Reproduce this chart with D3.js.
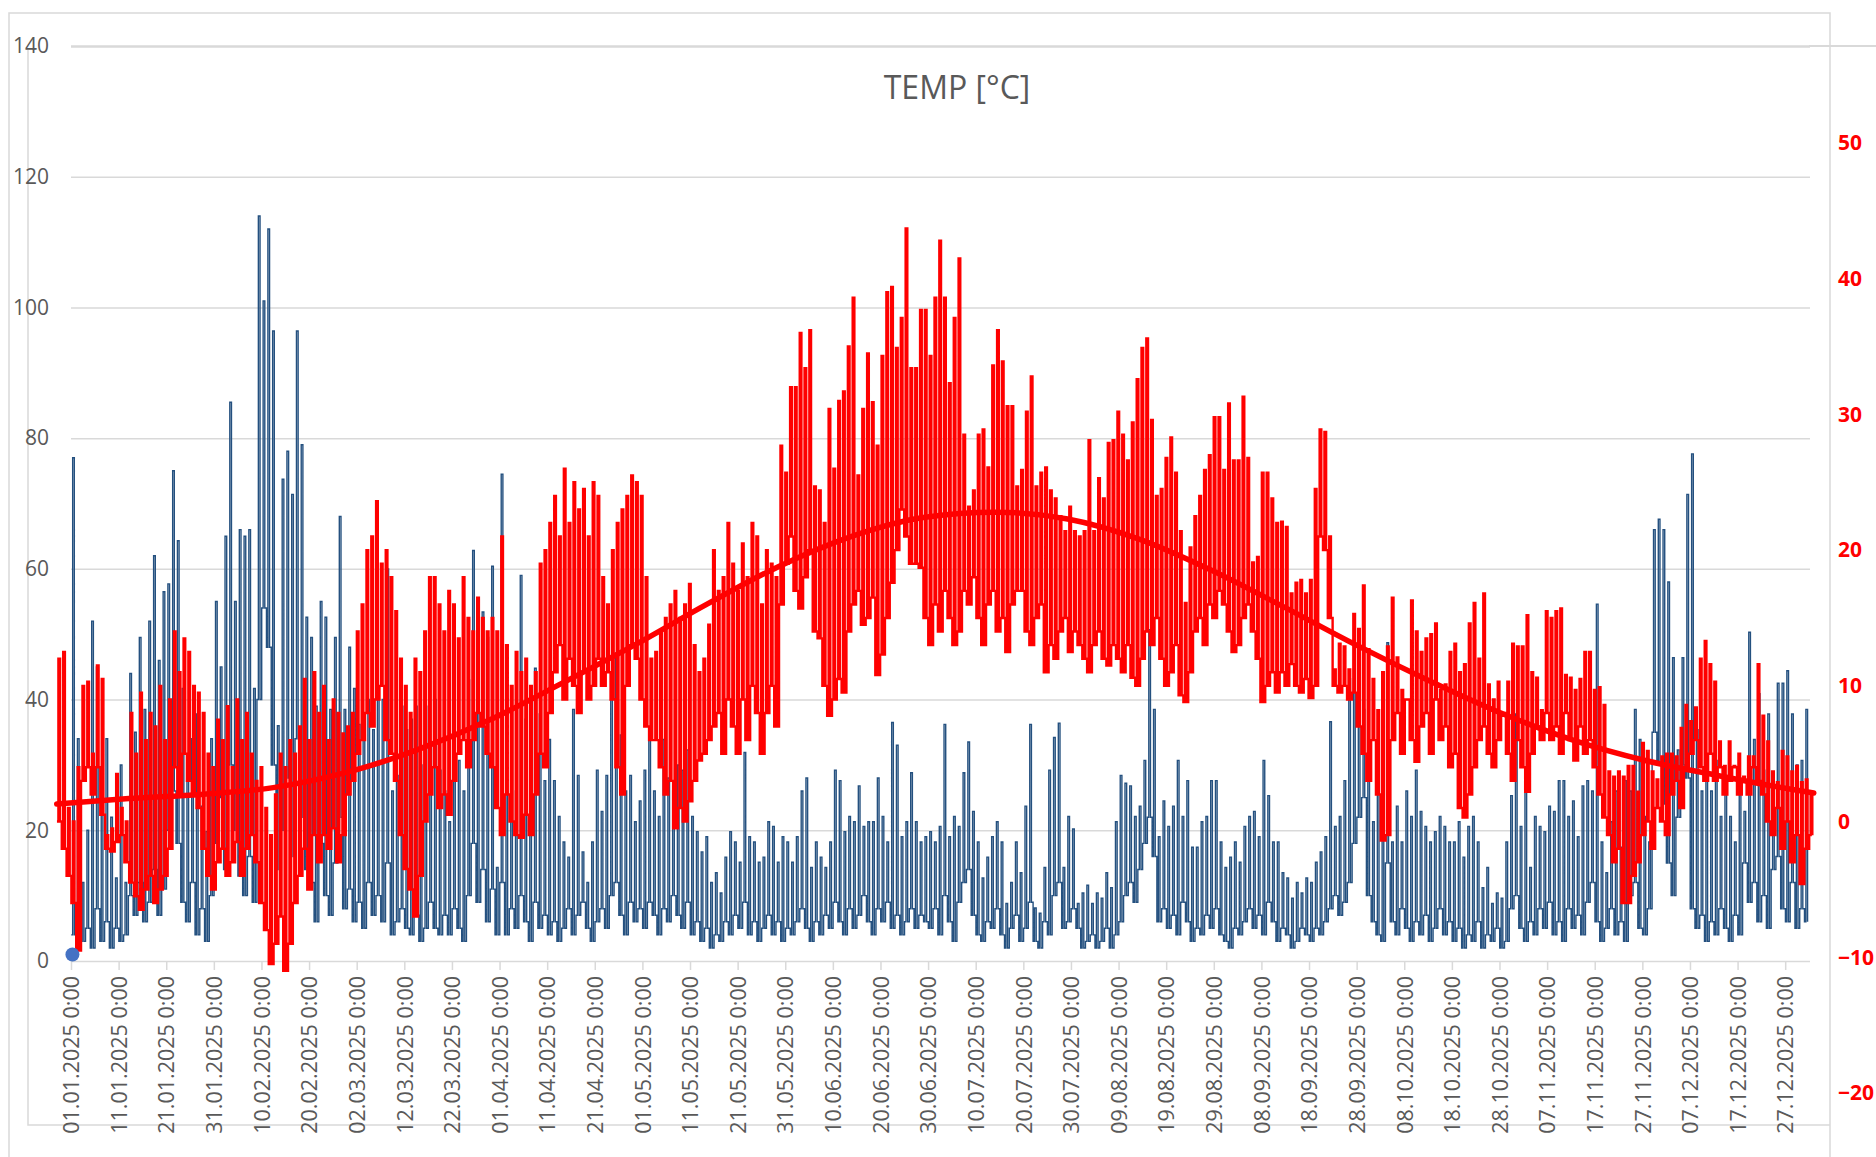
<!DOCTYPE html>
<html>
<head>
<meta charset="utf-8">
<script src="https://cdn.jsdelivr.net/npm/d3@7"></script>
<style>
  body { margin: 0; background: #fff; }
  svg { display: block; }
</style>
</head>
<body>
<div id="chart"></div>
<script>
// ---- data (one value per day) ----
var titleText = "TEMP [°C]";
var leftTicks = [0, 20, 40, 60, 80, 100, 120, 140];
var rightTicks = [-20, -10, 0, 10, 20, 30, 40, 50];
var tickDays = d3.range(0, 361, 10); // a label every 10 days from 01.01.2025

// blue series (left axis), daily peak and daily floor
var blueHigh = [
  77,34,12,20,52,45,26,34,22,12.7, 30,12,44,35,49.5,38.5,52,62,46,56.5,
  57.7,75,64.3,41.7,31.5,34,37.8,23.7,19.8,34, 55,45,65,85.5,55,66,65,66,41.7,114,
  101,112,96.4,36,73.7,78,71.4,96.4,79,52.6, 49.5,39,55,52.6,38.5,49.5,68,38.5,48,41.7,
  36.2,34.6,40,35.4,41.7,40,60,26,28.4,39, 35.4,37,39,30,39,33,40,29.2,26,21.3,
  35.4,30.7,26,43,62.8,55,53.4,49.5,60.4,14.3, 74.5,26,41.7,26,59,37,26,44.8,37.8,27.6,
  33.9,27.6,22.1,18.2,15.9,38.5,28.4,16.7,12,18.2, 29.2,22.9,28.4,41.7,47.1,34.6,26,28.4,21.3,24.5,
  29.2,33.9,26,22.1,33.9,28,26,30,29.2,32.3, 22.1,19.8,16.7,19,12,13.5,10.4,15.9,19.8,18.2,
  15.1,31.9,19,18.2,15.1,15.9,21.3,20.6,15.1,19, 18.2,15.1,19,26,28,14.3,18.2,15.9,14.3,18.2,
  29.2,27.6,19.8,22.1,21.3,26.8,20.6,21.3,21.3,28, 22.1,18.2,36.5,33,19,21.3,28.8,21.3,18.2,19,
  19.8,18.2,20.6,36.2,19,22.1,20.6,28.8,33.5,22.9, 18.2,12.7,15.9,19,21.3,18.2,8.8,12,18.2,13.5,
  23.7,36.2,8.1,7.3,14.3,29.2,34.2,36.4,14.3,22.1, 20.2,8.8,10.4,11.6,8.8,10.4,9.6,13.5,11.2,21.3,
  28.4,27.2,26.8,22.1,23.7,30.7,50.7,38.5,19,24.5, 20.6,23.7,30.7,22.1,27.6,17.4,17.4,21.3,22.1,27.6,
  27.6,18.2,14.3,15.9,18.2,15.1,20.6,22.1,22.9,19, 30.7,25.3,18.2,18.2,13.5,12.7,9.6,12,10.4,12.7,
  12,15.1,16.7,19,36.6,20.6,22.1,27.6,43.2,42.8, 40.9,38.5,30.7,21.3,31.5,37,48.7,18.2,23.7,18.2,
  26,22.1,29.2,22.9,20.6,18.2,19.8,22.1,20.6,18.2, 18.2,21.3,15.9,20.6,22.1,18.2,11.2,14.3,8.8,10.4,
  9.6,18.2,25.3,37.8,20.6,26,14.3,22.1,20.6,19.8, 23.7,22.9,27.6,27.6,22.1,24.5,19,26.8,27.6,26,
  54.6,18.2,13.5,21.3,26,17.4,27.6,26,38.5,33.9, 22.1,18.2,66,67.6,66,58,46.4,32.3,46.4,71.4,
  77.6,35.4,26,30,26,30.7,22.1,26,22.1,18.2, 26,22.9,50.3,33.9,40.9,29.2,37.8,26,42.5,42.5,
  44.4,37.8,30,30.7,38.5
];
var blueLow = [
  4,4,3,5,2,8,3,6,2,5, 3,4,10,7,12,6,9,14,7,11,
  20,26,18,9,6,12,4,8,3,10, 18,25,14,30,20,13,10,16,9,40,
  54,48,30,14,20,28,16,34,22,14, 12,6,18,10,7,15,22,8,11,6,
  9,5,12,7,10,6,15,4,6,8, 5,4,7,3,5,9,5,4,7,4,
  8,5,3,10,18,9,14,6,11,4, 12,4,8,5,10,6,3,9,5,7,
  4,6,3,5,8,4,7,9,5,3, 6,8,5,10,12,7,4,9,6,8,
  5,9,7,4,8,6,10,7,5,9, 4,6,3,5,2,4,3,6,4,7,
  5,9,4,6,3,5,7,4,6,3, 5,4,6,8,5,3,6,4,7,5,
  9,6,4,8,5,7,10,6,4,8, 6,9,5,7,4,6,8,5,7,6,
  5,8,4,10,6,3,9,12,14,7, 4,3,6,5,8,4,2,5,7,3,
  5,9,3,2,6,4,10,12,5,6, 8,5,2,3,4,2,3,5,2,4,
  6,10,12,9,14,18,22,16,6,8, 5,7,4,9,6,3,5,4,7,5,
  8,4,3,2,5,4,6,8,5,7, 4,9,6,3,5,4,2,3,5,4,
  3,5,4,6,8,10,7,9,12,18, 22,25,10,6,4,3,15,6,4,8,
  5,3,6,4,7,3,5,8,4,6, 3,5,2,4,3,6,2,4,3,5,
  2,3,8,10,5,3,6,4,8,5, 9,4,6,3,8,5,7,4,9,12,
  6,3,5,8,4,6,3,10,12,5, 4,8,35,30,24,15,10,22,30,28,
  8,5,7,3,6,4,8,5,3,7, 4,15,9,12,6,10,5,14,16,8,
  6,12,5,8,6
];

// red series (right axis, °C), daily max and daily min
var redHigh = [
  12,12.5,1,0,4,10,10.3,5,11.5,10.5, -1,-0.5,3.5,1,0,8,5,9.5,6,8,
  7,10,6,9,14,11,13.5,12.5,10,9.5, 8,5,4,7.5,6,8.5,4,9,6,8,
  5,3,4,1,-1,2,5,4,6,5, 7,10.5,6,11,8,10,6,9,8,6.5,
  7,8,14,16,20,21,23.6,19,20,18, 15.5,12,10,8,12,11,14,18,18,16,
  14,17,16,13.5,18,15,14,16.5,15,14, 15,14,21,13,10,12.5,11,12,10,11,
  19,20,22,24,21,26,22,25,23,24.5, 21,25,24,18,16,20,22,23,24,25.5,
  25,24,18,12,12.5,14,15,16,17,15, 16,17.5,13,11,12,14.5,20,17,18,22,
  19,17,20.5,18,22,21,16,20,19,18, 27.7,25.7,32,32,36,33.4,36.2,24.7,24.4,22,
  30.4,26,31,31.7,35,38.6,25.5,30.4,34.5,30.9, 27.7,34.3,39,39.4,34.9,37.1,43.7,33.4,33.4,37.7,
  37.7,34.3,38.6,42.8,38.6,32.3,37.1,41.5,28.5,23.2, 24.4,28.5,28.9,26.1,33.6,36.2,33.9,30.6,30.6,24.7,
  25.9,30.2,32.8,24.7,25.7,26.1,24.4,23.8,22.5,21.4, 23.2,21.4,21,21.4,28.1,21.4,25.3,23.8,27.9,28.1,
  30.2,28.5,26.6,29.4,32.6,34.9,35.6,29.6,24,24.5, 26.8,28.3,25.7,21.4,16.1,20.2,22.5,24,25.9,27,
  29.8,29.8,25.9,30.8,26.6,26.6,31.3,26.8,19.1,19.5, 25.7,25.7,23.8,22,22.1,21.7,16.8,17.6,17.8,16.8,
  17.8,24.5,28.9,28.7,21,11.2,13.1,12.9,11.2,15.3, 14.2,17.4,12.7,10.5,8.2,11,12.9,16.5,12.1,9.7,
  9,16.3,14,12.5,13.5,13.8,14.6,9.7,10.1,12.5, 13.1,11,11.6,14.6,16.1,12,16.8,10.1,9,10.3,
  7.8,10.3,13.1,12.9,12.9,15.2,11,10.6,8.2,15.5, 15,15.5,15.7,10.8,10.6,9.7,10.5,12.5,12.5,9.7,
  9.9,8.6,3.7,3.3,3.7,3.3,4.1,4.1,2.2,5.8, 5.2,3.7,3.1,4.8,5,5,4.8,6.9,8.6,7.4,
  8.4,12,13.3,11.6,10.3,5.9,4.1,5.9,4.1,5, 3.3,4.8,4.8,11.6,7.8,5.9,3.7,2.9,5.2,4.8,
  3.7,4.1,2.9,3.1,2
];
var redLow = [
  0,-2,-4,-6,-9.5,3,4,2,4,0.5, -2,-2.2,-1.5,-1,-3,-4.5,-5.5,-6.5,-5,-4,
  -6,-5,-4,-2,4,2,5,3,2,1, -2,-4,-5,-3,-2,-4,-3,-1.5,-4,-2,
  -1,-3,-6,-8,-10.5,-9,-7,-11,-9,-6, -4,-2,-5,-1,-3,-1,-2,-0.5,-3,-1,
  2,3,5,6,8,7,9,10,6,5, 3,-1,-3.5,-5,-7,-4,0,2,4,1,
  2,0.5,3,5,6,4,6,8,7,5, 4,1,-1,2,0,-1,-1.2,0.5,-1,2,
  5,4,8,11,13,9,12,10,8,11, 9,10,12,10,11,9,4,2,10,13,
  12,9,7,6,6,4,2,3,-0.5,1, 0,1.5,3,4.5,5,6,7,8,5,9,
  7,5,9,6,10,8,5,8,10,7, 16,19,21,17,15.7,18,20,14,13.5,10,
  7.8,9,10.5,9.5,14,16,17,14.5,15,16.5, 10.8,12.3,15,17.6,20,23,21,19,19,18.7,
  15,13,16,14,17,15,13,14,17,16, 18,15,13,16,17,14,15,12.5,16,17,
  17,14,13,15,16,11,13,12,14,15, 12.5,14,13,12,11,13,14,12,11.5,13,
  12,11,13,10.6,10,12,14,13,15,12, 10,11,13,9.3,8.8,11,14,15,13,16,
  15,17,16,14,12.5,13,15,16,14,12, 8.8,10,11,9.5,11,10,11.6,10,9.5,10.5,
  9.1,10,21,20,15,10,9.5,10,9,9.5, 7,5,3,6,2,-1.4,-1,6,8,5,
  9,6,4.4,7,8,5,9,6,7,4, 5,1,0.3,2,4,6,7,5,4,6,
  8,5,3,6,4,2.2,5,7,6,8, 6,7,5,8,6,4.5,7,5,6,4,
  2,0.3,-1,-3,-2,-6,-6,-4,-3,-1, 0,-2,1,0,-1,2,3,1,4,5,
  6,4,3,5,3,4,2,3,4,2, 3,2,4,3,2,0,-1,1,-2,0,
  -3,-1,-4.6,-2,-1
];

// red trend (°C), sampled along the red series
var trendDays = [0,15,30,45,60,75,90,105,120,135,150,165,180,195,210,225,240,255,270,285,300,315,330,345,360,365];
var trendTemp = [1.3,1.7,2.0,2.5,3.6,5.3,7.5,10.2,13.0,16.0,18.8,21.0,22.4,22.8,22.3,20.8,18.5,15.8,13.0,10.4,8.0,6.0,4.5,3.4,2.4,2.1];

// single blue marker at the start
var blueMarker = {day: 0.3, value: 1};

// ---- chart ----
var W = 1876, H = 1157;
var plot = {left: 71, right: 1809, top: 46, bottom: 961};
var start = new Date(2025, 0, 1), end = new Date(2026, 0, 1);
var dayMs = 864e5;
var grey = "#595959", gridCol = "#d9d9d9";
var font = "'Open Sans', 'Liberation Sans', sans-serif";

var svg = d3.select("#chart").append("svg")
    .attr("width", W)
    .attr("height", H);

svg.append("rect").attr("width", W).attr("height", H).attr("fill", "#fff");

var x = d3.scaleTime().domain([start, end]).range([plot.left, plot.right]);
var y = d3.scaleLinear().domain([0, 140]).range([plot.bottom, plot.top]);
var yR = d3.scaleLinear().domain([-20, 50]).range([1093, 143]);

// the red series sits on its own slightly wider date span
var redFrom = new Date(2024, 11, 29), redTo = new Date(2026, 0, 2);
var xRed = d3.scaleLinear().domain([0, redHigh.length]).range([x(redFrom), x(redTo)]);

function dayDate(d) { return new Date(start.getTime() + d * dayMs); }

// frames
var frame = svg.append("g").attr("stroke", gridCol).attr("fill", "none").attr("stroke-width", 1.5);
frame.append("path").attr("d", "M9,1157V13H1830V1157");
frame.append("path").attr("d", "M28,50V1125H1830");

// gridlines
var grid = svg.append("g")
    .attr("transform", "translate(" + plot.left + ",0)")
    .call(d3.axisLeft(y).tickValues(leftTicks).tickSize(-(plot.right + 1 - plot.left)).tickFormat(""));
grid.select(".domain").remove();
grid.selectAll("line").attr("stroke", gridCol).attr("stroke-width", 1.5);
svg.append("line")
    .attr("x1", plot.right).attr("x2", W)
    .attr("y1", y(140)).attr("y2", y(140))
    .attr("stroke", gridCol).attr("stroke-width", 2);
grid.selectAll("line").filter(function(d) { return d === 140; }).attr("stroke-width", 2.5);

// left axis labels
var yAxis = svg.append("g")
    .attr("transform", "translate(" + plot.left + ",0)")
    .call(d3.axisLeft(y).tickValues(leftTicks).tickSize(0).tickPadding(22));
yAxis.select(".domain").remove();
yAxis.selectAll("text").attr("fill", grey).attr("font-size", 21).attr("font-family", font);

// right axis labels
var yAxisR = svg.append("g")
    .attr("transform", "translate(1838,0)")
    .call(d3.axisRight(yR).tickValues(rightTicks).tickSize(0).tickPadding(0));
yAxisR.select(".domain").remove();
yAxisR.selectAll("text").attr("fill", "#ff0000").attr("font-size", 21)
    .attr("font-weight", "bold").attr("font-family", font);

// bottom axis with rotated date labels
var fmt = d3.timeFormat("%d.%m.%Y %-H:%M");
var xAxis = svg.append("g")
    .attr("transform", "translate(0," + plot.bottom + ")")
    .call(d3.axisBottom(x).tickValues(tickDays.map(dayDate)).tickSize(9).tickFormat(fmt));
xAxis.select(".domain").remove();
xAxis.selectAll("line").attr("stroke", gridCol).attr("stroke-width", 1.5);
xAxis.selectAll("text")
    .attr("transform", "rotate(-90)")
    .attr("text-anchor", "end")
    .attr("x", -15).attr("y", 0).attr("dy", "0.36em")
    .attr("fill", grey).attr("font-size", 21.5).attr("font-family", font);

// daily pulse: step up from the floor to the peak, hold briefly, step back down
function pulses(hi, lo, toX) {
  var pts = [];
  hi.forEach(function(h, i) {
    pts.push([toX(i + 0.05), lo[i]]);
    pts.push([toX(i + 0.35), h]);
    pts.push([toX(i + 0.7), lo[i]]);
  });
  return pts;
}

var bluePts = pulses(blueHigh, blueLow, function(d) { return x(dayDate(d)); });
svg.append("path")
    .datum(bluePts)
    .attr("fill", "none")
    .attr("stroke", "#24507f")
    .attr("stroke-width", 1.4)
    .attr("d", d3.line()
        .curve(d3.curveStepAfter)
        .x(function(p) { return p[0]; })
        .y(function(p) { return y(p[1]); }));

var redPts = pulses(redHigh, redLow, xRed);
svg.append("path")
    .datum(redPts)
    .attr("fill", "none")
    .attr("stroke", "#ff0000")
    .attr("stroke-width", 2.4)
    .attr("d", d3.line()
        .curve(d3.curveStepAfter)
        .x(function(p) { return p[0]; })
        .y(function(p) { return yR(p[1]); }));

// trend
svg.append("path")
    .datum(trendDays.map(function(d, i) { return [d, trendTemp[i]]; }))
    .attr("fill", "none")
    .attr("stroke", "#ff0000")
    .attr("stroke-width", 5.5)
    .attr("stroke-linecap", "round")
    .attr("d", d3.line()
        .curve(d3.curveMonotoneX)
        .x(function(p) { return xRed(p[0]); })
        .y(function(p) { return yR(p[1]); }));

// marker
svg.append("circle")
    .attr("cx", x(dayDate(blueMarker.day)))
    .attr("cy", y(blueMarker.value))
    .attr("r", 7)
    .attr("fill", "#4472c4");

// title
svg.append("text")
    .attr("x", 957).attr("y", 90)
    .attr("text-anchor", "middle")
    .attr("dominant-baseline", "middle")
    .attr("fill", grey)
    .attr("font-size", 32)
    .attr("font-family", font)
    .text(titleText);
</script>
</body>
</html>
